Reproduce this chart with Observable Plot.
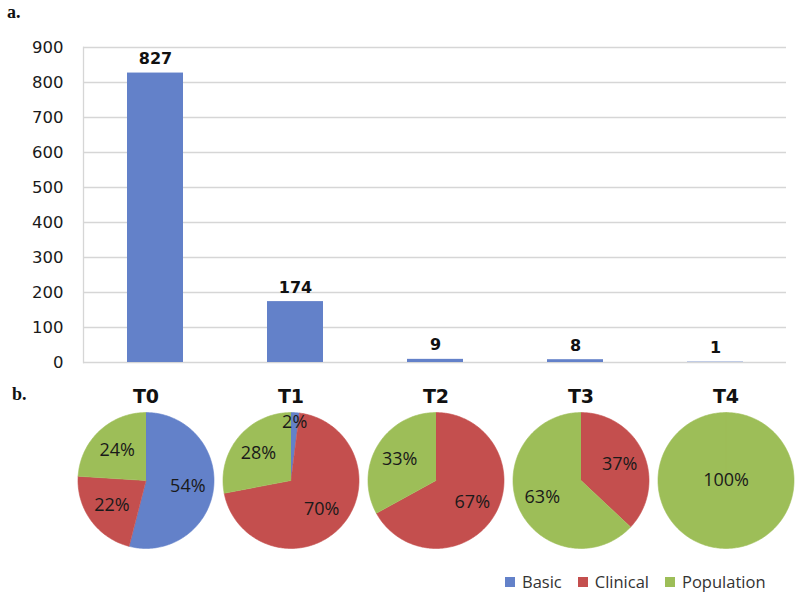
<!DOCTYPE html>
<html>
<head>
<meta charset="utf-8">
<script src="https://cdn.jsdelivr.net/npm/d3@7"></script>
<script src="https://cdn.jsdelivr.net/npm/@observablehq/plot@0.6"></script>
<style>
  html, body { margin: 0; padding: 0; background: #fff; }
  #wrap { position: relative; width: 800px; height: 600px; overflow: hidden; }
  .tag { position: absolute; font-family: "Liberation Serif", "DejaVu Serif", serif; font-weight: bold; font-size: 18px; color: #111; }
  #bars { position: absolute; left: 0; top: 0; }
  #pies { position: absolute; left: 0; top: 380px; }
  #legend { position: absolute; left: 505px; top: 570px; display: flex; align-items: center;
            font-family: "Open Sans", sans-serif; font-size: 16.5px; color: #333; }
  #legend .item { display: flex; align-items: center; margin-right: 16px; }
  #legend .sw { width: 10px; height: 10px; margin-right: 7px; }
</style>
</head>
<body>
<div id="wrap">
  <div id="bars"></div>
  <div id="pies"></div>
  <div class="tag" style="left:7px; top:2px;">a.</div>
  <div class="tag" style="left:12px; top:384px;">b.</div>
  <div id="legend"></div>
</div>
<script>
// ---- data ----
const periods = ["T0", "T1", "T2", "T3", "T4"];
const counts = [827, 174, 9, 8, 1];
const groups = ["Basic", "Clinical", "Population"];
const basicPct = [54, 2, 0, 0, 0];
const clinicalPct = [22, 70, 67, 37, 0];
const populationPct = [24, 28, 33, 63, 100];
const groupColors = ["#6381C9", "#C44F4E", "#9DBE58"];
const yTicks = [0, 100, 200, 300, 400, 500, 600, 700, 800, 900];

// ---- bar chart ----
const barData = periods.map((p, i) => ({period: p, count: counts[i]}));

const barPlot = Plot.plot({
  width: 800, height: 380,
  marginTop: 47, marginBottom: 18, marginLeft: 83, marginRight: 14,
  x: {domain: periods, paddingInner: 0.6, paddingOuter: 0.3, axis: null},
  y: {domain: [0, 900]},
  marks: [
    Plot.frame({anchor: "left", stroke: "#d6d6d6", strokeWidth: 1.3}),
    Plot.ruleY(yTicks, {stroke: "#d6d6d6", strokeWidth: 1.3}),
    Plot.barY(barData, {x: "period", y: "count", fill: groupColors[0]}),
    Plot.text(barData, {x: "period", y: "count", text: d => String(d.count), dy: -9, lineAnchor: "bottom",
      fontSize: 16, fontWeight: "bold", fontFamily: "DejaVu Sans", fill: "#111"}),
    Plot.axisY(yTicks, {tickSize: 0, tickPadding: 20, fontSize: 16.5, fontFamily: "DejaVu Sans", label: null, color: "#1a1a1a"})
  ]
});
document.getElementById("bars").appendChild(barPlot);

// ---- pie charts ----
const shares = periods.map((p, i) => [basicPct[i], clinicalPct[i], populationPct[i]]);
const slicePts = [];
const labels = [];
periods.forEach((p, i) => {
  const total = d3.sum(shares[i]);
  let acc = 0;
  groups.forEach((g, j) => {
    const v = shares[i][j];
    if (!v) return;
    const a0 = acc / total * 2 * Math.PI;
    const a1 = (acc + v) / total * 2 * Math.PI;
    acc += v;
    const id = p + "-" + g;
    slicePts.push({period: p, group: g, id, x: 0, y: 0});
    const n = Math.max(2, Math.ceil((a1 - a0) / (Math.PI / 180)));
    for (let k = 0; k <= n; k++) {
      const a = a0 + (a1 - a0) * k / n;
      slicePts.push({period: p, group: g, id, x: Math.sin(a), y: Math.cos(a)});
    }
    const frac = v / total;
    const r = frac >= 1 ? 0 : frac < 0.05 ? 0.86 : 0.62;
    const am = (a0 + a1) / 2;
    labels.push({period: p, group: g, x: r * Math.sin(am), y: r * Math.cos(am), text: v + "%"});
  });
});

const piePlot = Plot.plot({
  width: 800, height: 180,
  marginTop: 30, marginBottom: 10, marginLeft: 72.5, marginRight: 2.5,
  fx: {domain: periods, padding: 0},
  x: {domain: [-1.066, 1.066], axis: null},
  y: {domain: [-1.03, 1.03], axis: null},
  color: {domain: groups, range: groupColors},
  marks: [
    Plot.line(slicePts, {fx: "period", x: "x", y: "y", z: "id", fill: "group", stroke: "group", strokeWidth: 0.6, curve: "linear"}),
    Plot.text(labels, {fx: "period", x: "x", y: "y", text: "text", fontSize: 18, fontFamily: "Open Sans", fill: "#1a1a1a"}),
    Plot.axisFx({anchor: "top", tickSize: 0, tickPadding: 8, fontSize: 19, fontWeight: 900, fontFamily: "DejaVu Sans", label: null, color: "#111"})
  ]
});
document.getElementById("pies").appendChild(piePlot);

// ---- legend ----
const legend = document.getElementById("legend");
groups.forEach((g, j) => {
  const item = document.createElement("div");
  item.className = "item";
  const sw = document.createElement("span");
  sw.className = "sw";
  sw.style.background = groupColors[j];
  const t = document.createElement("span");
  t.textContent = g;
  item.appendChild(sw);
  item.appendChild(t);
  legend.appendChild(item);
});
</script>
</body>
</html>
